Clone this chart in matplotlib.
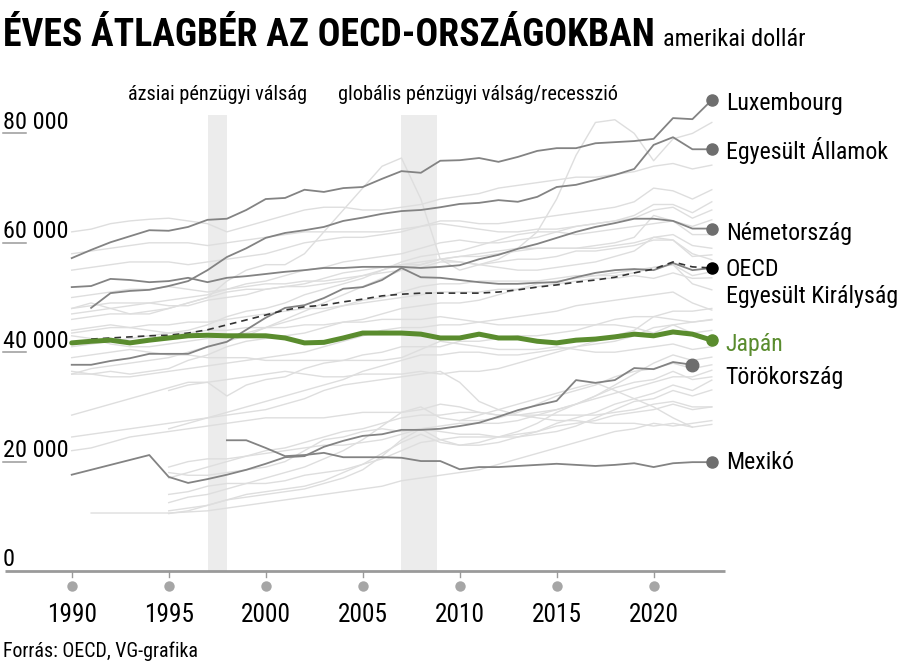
import matplotlib
matplotlib.use("Agg")
import matplotlib.pyplot as plt
import matplotlib.transforms as mtransforms
from matplotlib import font_manager

# ---------------- data (thousand USD) ----------------
years = list(range(1990, 2024))
tick_years = [1990, 1995, 2000, 2005, 2010, 2015, 2020]
y_ticks = [0, 20, 40, 60, 80]
y_tick_labels = ["0", "20 000", "40 000", "60 000", "80 000"]

crisis_spans = [(1997, 1998), (2007, 2008.85)]
crisis_labels = ["ázsiai pénzügyi válság", "globális pénzügyi válság/recesszió"]
crisis_label_x = [1997.5, 2010.95]

japan = [41.7, 42.0, 42.2, 41.7, 42.2, 42.6, 43.0, 43.1, 43.0, 43.0,
         43.0, 42.6, 41.7, 41.8, 42.6, 43.5, 43.5, 43.5, 43.3, 42.6,
         42.6, 43.3, 42.6, 42.6, 42.0, 41.7, 42.2, 42.4, 42.8, 43.3,
         43.0, 43.7, 43.3, 42.2]
oecd_start = 1991
oecd = [42.4, 42.6, 42.8, 43.0, 43.1, 43.5, 44.1, 45.0, 45.9,
        46.8, 47.7, 48.3, 48.6, 49.2, 49.7, 50.3, 50.6, 50.8, 50.8,
        50.8, 50.8, 51.0, 51.4, 51.9, 52.3, 52.8, 53.2, 53.7, 54.5,
        55.2, 56.5, 55.6, 55.4]
luxembourg = [57.2, 58.7, 60.1, 61.2, 62.3, 62.2, 62.9, 64.2, 64.4, 66.0,
              68.0, 68.2, 69.7, 69.3, 70.0, 70.2, 71.7, 73.1, 72.8, 75.0,
              75.1, 75.5, 74.8, 75.7, 76.8, 77.3, 77.3, 78.2, 78.4, 78.6,
              79.0, 82.8, 82.6, 86.1]
usa_start = 1991
usa = [48.1, 50.8, 51.2, 51.4, 52.1, 53.0, 55.0, 57.4, 59.0,
       60.9, 61.8, 62.3, 62.9, 64.0, 64.6, 65.3, 65.8, 66.0, 66.5,
       67.1, 67.3, 67.8, 67.5, 68.4, 70.2, 70.6, 71.5, 72.4, 73.5,
       77.9, 79.3, 77.1, 77.1]
germany = [51.9, 52.1, 53.4, 53.2, 52.8, 53.0, 53.6, 52.8, 53.6, 53.9,
           54.3, 54.7, 55.0, 55.4, 55.4, 55.6, 55.6, 55.6, 55.4, 55.6,
           55.9, 57.0, 57.8, 58.9, 59.8, 60.9, 62.0, 62.9, 63.6, 64.4,
           64.4, 64.0, 62.6, 62.6]
uk = [37.7, 37.7, 38.4, 38.9, 39.7, 39.7, 39.7, 41.0, 41.9, 44.1,
      46.3, 48.1, 48.6, 49.9, 51.6, 51.9, 53.2, 55.4, 53.7, 53.6,
      53.2, 52.8, 52.5, 52.5, 52.7, 52.8, 53.7, 54.5, 55.0, 55.2,
      55.0, 56.3, 55.0, 55.4]
turkey = [17.6, 18.5, 19.4, 20.3, 21.2, 17.2, 16.1, 16.8, 17.6, 18.5,
          19.6, 20.8, 21.0, 22.7, 23.8, 24.7, 25.0, 25.8, 25.8, 26.0,
          26.5, 27.1, 28.2, 29.4, 30.3, 31.1, 34.9, 34.4, 34.9, 37.1,
          36.9, 38.2, 37.7]
mexico_start = 1998
mexico = [23.9, 23.9, 22.5, 21.0, 21.2, 21.6, 20.8, 20.8, 20.8, 20.7,
          20.1, 20.1, 18.6, 19.0, 19.0, 19.2, 19.4, 19.6, 19.4, 19.2,
          19.4, 19.7, 19.0, 19.7, 19.9, 19.9]

# other OECD countries (light grey background lines)
iceland = [48.0, 49.0, 48.0, 47.0, 47.0, 48.0, 49.0, 50.0, 53.0, 55.0,
           56.0, 56.0, 58.0, 62.0, 66.0, 70.0, 74.0, 75.5, 68.0, 57.0,
           55.0, 56.0, 57.0, 59.0, 62.0, 68.0, 76.0, 82.0, 82.5, 80.0,
           75.0, 79.0, 80.0, 82.0]
switzerland = [62.0, 62.5, 63.5, 64.0, 64.3, 64.5, 64.0, 63.5, 62.0, 63.0,
               64.0, 65.0, 66.0, 66.5, 66.5, 66.0, 66.0, 66.5, 67.0, 68.0,
               68.5, 69.0, 70.0, 70.5, 71.0, 71.5, 72.0, 72.0, 72.5, 73.0,
               74.0, 74.5, 73.5, 74.2]
belgium = [58.0, 58.5, 59.0, 59.5, 60.0, 60.0, 60.0, 59.5, 60.0, 60.5,
           61.0, 61.5, 62.0, 62.0, 62.0, 62.0, 62.0, 62.5, 63.0, 64.0,
           64.0, 63.5, 63.5, 64.0, 64.5, 65.0, 65.5, 66.0, 66.5, 67.5,
           70.0, 69.5, 68.0, 69.7]
netherlands = [55.0, 55.5, 56.0, 56.5, 56.5, 56.5, 56.0, 56.5, 57.0, 57.5,
               58.0, 59.0, 60.0, 60.5, 61.0, 61.0, 61.5, 62.0, 63.0, 63.5,
               63.0, 62.5, 62.0, 62.0, 62.5, 62.5, 63.0, 63.5, 64.0, 65.0,
               67.0, 67.0, 65.5, 67.5]
denmark = [47.0, 47.5, 48.0, 48.5, 49.0, 49.5, 50.0, 50.5, 51.5, 52.5,
           53.0, 54.0, 55.0, 55.5, 56.5, 57.0, 57.5, 58.0, 59.0, 60.0,
           60.5, 60.0, 60.0, 60.5, 61.0, 62.0, 63.0, 63.5, 64.0, 64.5,
           66.0, 66.5, 64.5, 66.0]
norway = [41.0, 41.5, 42.0, 42.5, 43.0, 43.5, 44.0, 45.0, 46.5, 47.5,
          48.0, 49.0, 50.5, 51.5, 52.5, 53.5, 55.0, 56.5, 57.5, 58.0,
          58.5, 59.5, 60.5, 61.5, 62.0, 62.0, 61.5, 62.0, 62.5, 63.0,
          63.5, 64.0, 61.5, 61.5]
austria = [50.0, 50.5, 51.0, 51.5, 51.5, 52.0, 51.5, 51.0, 51.5, 52.0,
           52.5, 52.5, 53.0, 53.0, 53.5, 54.0, 54.5, 55.0, 55.5, 56.5,
           56.5, 56.0, 56.5, 57.0, 57.0, 57.5, 58.5, 58.5, 59.0, 59.5,
           60.5, 60.5, 57.5, 57.8]
canada = [48.0, 48.5, 49.0, 49.0, 49.0, 48.5, 48.5, 49.5, 50.0, 50.5,
          51.5, 52.0, 52.0, 52.5, 53.0, 54.0, 55.0, 56.0, 56.5, 57.0,
          57.5, 57.5, 58.0, 58.5, 59.0, 59.0, 59.0, 59.5, 60.0, 61.0,
          65.0, 64.0, 63.0, 64.2]
australia = [46.0, 46.5, 47.0, 47.0, 47.5, 48.0, 49.0, 50.0, 51.0, 51.5,
             51.5, 52.0, 52.5, 53.5, 54.5, 55.0, 55.5, 56.0, 56.0, 57.0,
             57.5, 58.0, 58.5, 59.0, 59.0, 59.0, 59.0, 59.0, 59.5, 60.0,
             61.0, 60.5, 58.0, 56.9]
ireland = [36.0, 37.0, 37.5, 38.0, 38.5, 39.0, 40.0, 41.0, 42.0, 43.0,
           44.5, 46.0, 47.5, 49.0, 50.5, 52.0, 53.5, 55.0, 56.0, 57.0,
           56.5, 56.0, 55.5, 55.0, 55.0, 55.5, 56.0, 56.5, 57.5, 58.5,
           61.0, 61.5, 59.5, 59.0]
finland = [43.0, 42.5, 41.5, 41.0, 41.0, 41.5, 42.0, 42.5, 43.0, 43.5,
           44.5, 45.5, 46.5, 47.5, 48.5, 49.5, 50.0, 51.0, 52.0, 52.5,
           52.5, 53.0, 53.0, 53.0, 53.0, 53.5, 54.0, 54.0, 54.5, 55.0,
           55.5, 56.0, 54.0, 54.7]
france = [43.5, 44.0, 44.5, 44.5, 45.0, 45.0, 45.5, 45.5, 46.0, 46.5,
          47.0, 47.5, 48.0, 48.0, 48.5, 49.0, 49.5, 50.0, 50.5, 51.0,
          51.0, 51.0, 51.5, 51.5, 52.0, 52.5, 53.0, 53.5, 53.5, 54.0,
          53.5, 54.5, 53.5, 53.6]
sweden = [36.0, 36.0, 36.5, 36.0, 36.5, 37.0, 38.5, 39.5, 41.0, 42.0,
          42.5, 43.0, 43.5, 44.5, 45.5, 46.0, 47.0, 48.0, 48.5, 49.0,
          49.0, 49.5, 50.5, 51.5, 52.5, 53.0, 53.5, 54.0, 54.0, 54.5,
          55.5, 56.0, 52.5, 51.4]
italy = [44.0, 44.5, 45.0, 44.5, 44.0, 43.5, 43.5, 44.0, 44.0, 44.5,
         44.5, 44.5, 45.0, 45.0, 45.5, 45.5, 46.0, 46.0, 46.0, 46.5,
         46.0, 45.5, 45.0, 45.0, 45.0, 45.0, 45.0, 45.0, 45.0, 44.5,
         43.5, 45.0, 43.5, 44.0]
new_zealand = [36.5, 36.0, 35.5, 35.5, 36.0, 36.5, 37.0, 37.5, 38.0, 38.5,
               39.0, 39.5, 40.0, 41.0, 42.0, 43.0, 44.0, 44.5, 44.5, 45.0,
               45.0, 45.5, 46.0, 46.5, 47.0, 47.5, 48.5, 49.0, 49.5, 50.0,
               50.5, 51.0, 49.0, 47.7]
spain = [39.0, 39.5, 40.0, 40.5, 40.0, 39.5, 39.5, 39.0, 39.0, 39.0,
         38.5, 38.5, 38.5, 38.5, 38.5, 38.5, 38.5, 39.0, 40.5, 42.0,
         41.5, 41.0, 40.5, 40.5, 40.5, 41.0, 40.5, 40.0, 40.0, 40.5,
         41.0, 41.5, 40.5, 41.0]
korea = [28.5, 29.5, 30.5, 31.5, 32.5, 33.5, 34.5, 34.5, 32.0, 34.0,
         35.0, 35.5, 37.0, 38.0, 38.5, 39.5, 40.0, 41.0, 41.0, 41.0,
         42.0, 42.0, 42.5, 43.0, 43.0, 43.5, 44.0, 45.0, 46.0, 46.5,
         46.5, 47.5, 47.5, 48.0]
greece = [24.5, 25.0, 25.5, 26.0, 26.5, 27.0, 27.5, 28.0, 28.5, 29.0,
          29.5, 30.5, 31.5, 33.0, 34.0, 34.5, 35.0, 35.5, 36.0, 36.5,
          34.5, 31.0, 29.5, 28.5, 28.0, 27.5, 27.5, 27.0, 27.0, 27.0,
          26.5, 27.0, 26.3, 26.8]
portugal = [22.0, 22.5, 23.5, 24.5, 25.0, 25.5, 26.0, 26.5, 27.0, 27.5,
            28.0, 28.0, 28.0, 28.0, 28.5, 29.0, 29.0, 29.0, 29.5, 30.5,
            30.0, 29.0, 28.5, 28.5, 28.5, 28.5, 28.5, 28.5, 29.0, 29.5,
            30.5, 31.0, 30.0, 30.0]
chile_start = 1991
chile = [10.6, 10.6, 10.6, 10.6, 10.6, 10.8, 11.0, 11.5, 12.0,
         12.5, 13.0, 13.5, 14.0, 14.5, 15.0, 15.5, 16.5, 17.0, 17.5,
         18.0, 18.5, 19.5, 20.5, 21.5, 22.5, 23.5, 24.5, 25.5, 26.0,
         27.0, 26.5, 27.0, 27.5]
late_start = 1995
slovenia = [26.0, 27.0, 28.0, 29.0, 30.0,
            31.0, 32.0, 33.0, 34.0, 35.0, 36.5, 37.5, 38.5, 39.5, 39.5,
            40.0, 40.0, 39.5, 39.5, 40.0, 40.5, 41.0, 41.5, 42.0, 43.0,
            44.5, 45.0, 45.5, 46.0]
israel = [33.0, 34.0, 34.5, 35.0, 35.5,
          36.0, 36.5, 36.0, 35.5, 35.5, 36.0, 36.0, 36.0, 36.5, 36.0,
          36.5, 36.5, 37.0, 38.0, 39.0, 40.0, 41.0, 42.0, 43.0, 44.0,
          46.5, 46.0, 45.5, 45.9]
czechia = [19.0, 20.0, 20.5, 20.5, 21.0,
           22.0, 22.5, 23.5, 24.5, 25.5, 26.0, 27.0, 28.0, 28.5, 28.5,
           29.0, 29.0, 28.5, 28.5, 29.0, 29.5, 30.5, 32.0, 33.5, 34.5,
           35.0, 36.5, 35.0, 35.5]
hungary = [18.0, 17.5, 17.5, 18.0, 18.5,
           19.0, 20.0, 22.0, 24.0, 24.5, 25.5, 26.0, 25.5, 26.0, 25.5,
           25.0, 25.0, 24.5, 24.5, 25.0, 25.5, 26.5, 28.0, 29.5, 31.0,
           31.5, 33.0, 32.0, 33.1]
poland = [17.0, 18.0, 19.0, 20.0, 21.0,
          21.5, 22.0, 22.5, 23.0, 23.0, 23.5, 24.0, 25.0, 26.0, 26.5,
          27.0, 27.0, 27.0, 27.5, 28.5, 29.5, 30.5, 31.5, 32.5, 33.5,
          34.5, 35.5, 35.5, 36.7]
slovakia = [14.0, 14.5, 15.5, 16.0, 16.0,
            16.0, 16.5, 17.5, 18.0, 18.5, 19.5, 20.5, 22.0, 23.5, 24.0,
            24.5, 24.5, 24.5, 25.0, 25.5, 26.5, 27.0, 27.5, 28.5, 29.0,
            29.5, 30.5, 29.5, 30.0]
estonia = [12.5, 13.5, 14.0, 15.0, 16.0,
           17.0, 18.0, 19.0, 20.5, 22.0, 24.0, 26.5, 29.0, 30.0, 28.0,
           27.5, 27.5, 28.0, 29.0, 30.5, 32.0, 33.0, 34.0, 35.5, 36.5,
           37.0, 38.0, 37.0, 37.7]
lithuania = [10.5, 11.0, 12.0, 13.0, 14.0,
             14.5, 15.0, 15.5, 16.5, 18.0, 19.5, 21.5, 23.5, 25.0, 23.5,
             23.0, 23.5, 24.5, 25.5, 27.0, 29.0, 30.5, 32.0, 34.0, 36.0,
             38.0, 39.5, 38.5, 39.1]
latvia = [11.0, 11.5, 12.0, 13.0, 13.5,
          14.0, 14.5, 15.0, 16.0, 17.0, 18.5, 21.0, 24.0, 26.0, 24.0,
          23.0, 23.0, 23.5, 24.5, 25.5, 27.0, 28.0, 29.0, 30.5, 31.5,
          32.5, 34.0, 33.0, 34.9]
costa_rica_start = 2010
costa_rica = [27.5, 28.5, 29.5, 30.5, 31.5, 32.5, 33.5, 34.4, 33.0, 31.5,
              30.0, 28.0, 26.3]

label_names = ["Luxembourg", "Egyesült Államok", "Németország", "OECD",
               "Egyesült Királyság", "Japán", "Törökország", "Mexikó"]
# label baselines (thousand USD)
label_baselines = [84.2, 75.4, 60.6, 54.0, 49.0, 40.2, 34.2, 18.6]

# ---------------- fonts ----------------
names = {f.name for f in font_manager.fontManager.ttflist}
FONT = "DejaVu Sans"
for cand in ["Liberation Sans Narrow", "Roboto Condensed", "Open Sans Condensed",
             "Noto Sans Condensed", "DejaVu Sans Condensed", "Liberation Sans"]:
    if cand in names:
        FONT = cand
        break
plt.rcParams["font.family"] = [FONT, "DejaVu Sans"]

GREEN = "#5a8c2e"
DARK = "#838383"
LIGHT = "#dedede"
DOT = "#6e6e6e"

W, H = 900, 671
fig = plt.figure(figsize=(W / 100, H / 100), dpi=100)
ax_left, ax_right, ax_bottom_px, ax_top_px = 5, 725, 571, 78.7
ax = fig.add_axes([ax_left / W, (H - ax_bottom_px) / H,
                   (ax_right - ax_left) / W, (ax_bottom_px - ax_top_px) / H])
ax.set_xlim(1986.56, 2023.68)
ax.set_ylim(0, 90)
ax.axis("off")

def yrs(start, vals):
    return list(range(start, start + len(vals)))

# crisis bands
band_top = 83.4
for (a, b) in crisis_spans:
    ax.fill_between([a, b], 0, band_top, color="#ececec", lw=0, zorder=0)

# light lines
light = [(1990, iceland), (1990, switzerland), (1990, belgium), (1990, netherlands),
         (1990, denmark), (1990, norway), (1990, austria), (1990, canada),
         (1990, australia), (1990, ireland), (1990, finland), (1990, france),
         (1990, sweden), (1990, italy), (1990, new_zealand), (1990, spain),
         (1990, korea), (1990, greece), (1990, portugal), (chile_start, chile),
         (late_start, slovenia), (late_start, israel), (late_start, czechia),
         (late_start, hungary), (late_start, poland), (late_start, slovakia),
         (late_start, estonia), (late_start, lithuania), (late_start, latvia),
         (costa_rica_start, costa_rica)]
for s, v in light:
    ax.plot(yrs(s, v), v, color=LIGHT, lw=1.0, zorder=1)

# highlighted dark lines
dark = [(1990, luxembourg), (usa_start, usa), (1990, germany), (1990, uk),
        (1990, turkey), (mexico_start, mexico)]
for s, v in dark:
    ax.plot(yrs(s, v), v, color=DARK, lw=1.3, zorder=3)

ax.plot(yrs(oecd_start, oecd), oecd, color="#333333", lw=1.2,
        dashes=(4, 3), zorder=4)
ax.plot(years, japan, color=GREEN, lw=3.6, zorder=5, solid_capstyle="round")

# end dots
for s, v in [(1990, luxembourg), (usa_start, usa), (1990, germany),
             (mexico_start, mexico)]:
    ax.plot([s + len(v) - 1], [v[-1]], "o", color=DOT, ms=8, zorder=6, clip_on=False)
ax.plot([1990 + len(turkey) - 1], [turkey[-1]], "o", color=DOT, ms=9, zorder=6, clip_on=False)
ax.plot([oecd_start + len(oecd) - 1], [oecd[-1]], "o", color="black", ms=8, zorder=6, clip_on=False)
ax.plot([years[-1]], [japan[-1]], "o", color=GREEN, ms=8, zorder=7, clip_on=False)

# right labels
lab_x = 2023.72
for name, yb in zip(label_names, label_baselines):
    ax.text(lab_x, yb, name, fontsize=17.2, va="baseline", ha="left",
            color=GREEN if name == "Japán" else "black", clip_on=False)

# bottom axis line
ax.plot([1986.56, 2023.68], [0, 0], color="#9a9a9a", lw=2.0, zorder=2,
        clip_on=False, solid_capstyle="butt")
tr_xdata = mtransforms.blended_transform_factory(ax.transData, fig.transFigure)
for yv in tick_years:
    ax.plot([yv, yv], [1 - 571 / H, 1 - 577 / H], transform=tr_xdata,
            color="#9a9a9a", lw=1.0, clip_on=False)
    ax.plot([yv], [1 - 586 / H], "o", transform=tr_xdata, color="#a6a6a6",
            ms=7.5, mew=0, clip_on=False)
    ax.text(yv, 1 - 622 / H, str(yv), transform=tr_xdata, ha="center",
            va="baseline", fontsize=18.3, clip_on=False)

# y tick labels with short underline
tr_yfig = mtransforms.blended_transform_factory(fig.transFigure, ax.transData)
for yv, lab in zip(y_ticks, y_tick_labels):
    off = mtransforms.offset_copy(tr_yfig, fig=fig, y=4.5, units="dots")
    ax.text(3 / W, yv, lab, transform=off, ha="left", va="baseline",
            fontsize=17.5, clip_on=False)
    if yv > 0:
        ax.plot([3 / W, 26 / W], [yv, yv], transform=tr_yfig, color="#9a9a9a",
                lw=1.1, clip_on=False)

# crisis labels
for xl, lab in zip(crisis_label_x, crisis_labels):
    ax.text(xl, 1 - 100 / H, lab, transform=tr_xdata, ha="center",
            va="baseline", fontsize=14.6, clip_on=False)

# title
fig.text(3 / W, 1 - 46 / H, "ÉVES ÁTLAGBÉR AZ OECD-ORSZÁGOKBAN",
         fontsize=27.2, fontweight="bold", ha="left", va="baseline")
fig.text(663 / W, 1 - 46 / H, "amerikai dollár", fontsize=17.5,
         ha="left", va="baseline")
fig.text(3 / W, 1 - 657 / H, "Forrás: OECD, VG-grafika", fontsize=14.3,
         ha="left", va="baseline")

fig.savefig("out.png", dpi=100)
